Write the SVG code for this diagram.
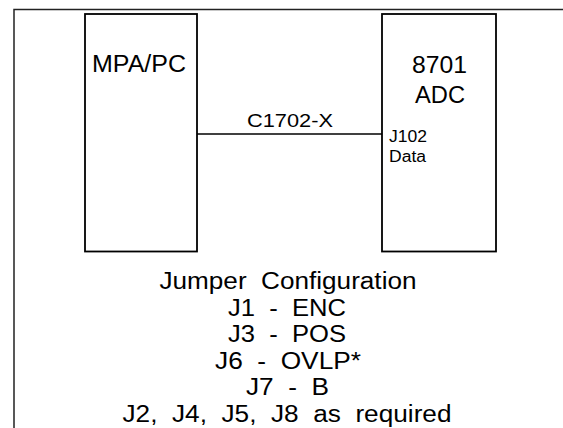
<svg xmlns="http://www.w3.org/2000/svg" width="563" height="428" viewBox="0 0 563 428">
<style>
.frame{fill:none;stroke:#222;stroke-width:1.5}
.box{fill:#fff;stroke:#000;stroke-width:1.8}
.wire{fill:none;stroke:#000;stroke-width:1.6}
text{font-family:"Liberation Sans",Arial,sans-serif;fill:#000;white-space:pre}
.big{font-size:23px}
.mid{font-size:19px}
.sm{font-size:16px}
.cfg{font-size:23px;text-anchor:middle}
</style>
<rect width="563" height="428" fill="#fff"/>
<path class="frame" d="M14,428 V9.5 H563"/>
<g id="connectors">
<line class="wire" x1="197" y1="134" x2="382" y2="134"/>
<text class="mid" x="247" y="127" textLength="86" lengthAdjust="spacingAndGlyphs">C1702-X</text>
</g>
<g id="mpa-pc">
<rect class="box" x="85" y="14" width="112" height="237.5"/>
<text class="big" x="92" y="72" textLength="94" lengthAdjust="spacingAndGlyphs">MPA/PC</text>
</g>
<g id="adc-8701">
<rect class="box" x="382" y="14" width="114" height="237.5"/>
<text class="big" x="412" y="73" textLength="55" lengthAdjust="spacingAndGlyphs">8701</text>
<text class="big" x="415" y="103" textLength="50" lengthAdjust="spacingAndGlyphs">ADC</text>
<text class="sm" x="389" y="142" textLength="38" lengthAdjust="spacingAndGlyphs">J102</text>
<text class="sm" x="389" y="162" textLength="37" lengthAdjust="spacingAndGlyphs">Data</text>
</g>
<g id="jumper-config">
<text class="cfg" x="288" y="289" textLength="257" lengthAdjust="spacingAndGlyphs">Jumper  Configuration</text>
<text class="cfg" x="287" y="315.5" textLength="118" lengthAdjust="spacingAndGlyphs">J1  -  ENC</text>
<text class="cfg" x="287" y="342" textLength="118" lengthAdjust="spacingAndGlyphs">J3  -  POS</text>
<text class="cfg" x="288" y="368.5" textLength="146" lengthAdjust="spacingAndGlyphs">J6  -  OVLP*</text>
<text class="cfg" x="287.5" y="395" textLength="83" lengthAdjust="spacingAndGlyphs">J7  -  B</text>
<text class="cfg" x="287" y="421.5" textLength="329" lengthAdjust="spacingAndGlyphs">J2,  J4,  J5,  J8  as  required</text>
</g>
</svg>
